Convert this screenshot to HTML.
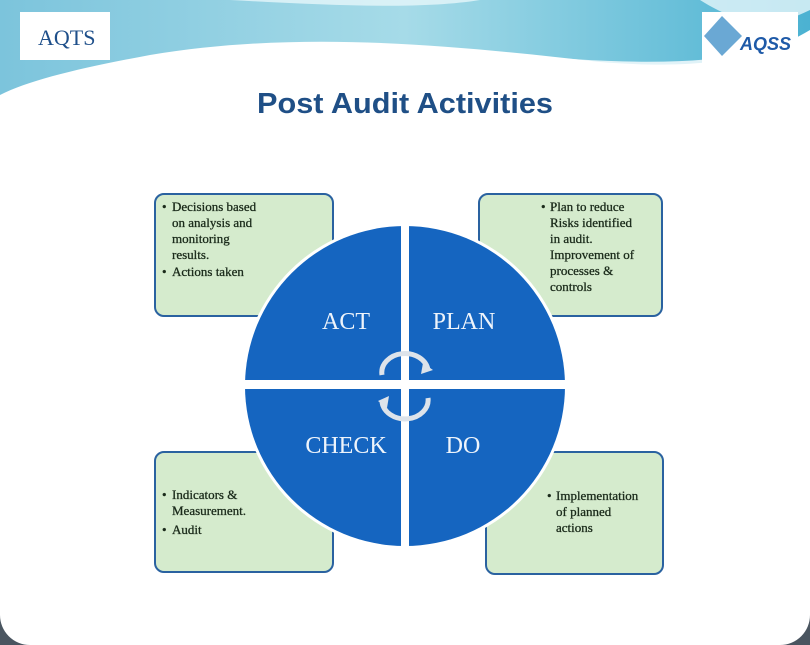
<!DOCTYPE html>
<html><head><meta charset="utf-8"><style>
body{margin:0;width:810px;height:645px;overflow:hidden;background:#fff;font-family:"Liberation Serif",serif}
svg{display:block}
</style></head><body>
<svg width="810" height="645" viewBox="0 0 810 645">
<defs>
<linearGradient id="hdr" x1="0" y1="0" x2="1" y2="0">
<stop offset="0" stop-color="#7cc4dc"/><stop offset="0.5" stop-color="#a6dbe8"/><stop offset="1" stop-color="#4bb2d2"/>
</linearGradient>
</defs>
<rect x="0" y="0" width="810" height="645" fill="#fff"/>
<path d="M0 0 H810 V30 C760 60 700 70 600 62 C450 45 300 30 150 55 C80 68 30 80 0 95 Z" fill="url(#hdr)"/>
<path d="M230 0 C320 5 420 10 480 0 Z M700 0 C740 25 770 30 810 10 V0 Z" fill="#e6f6fa" opacity="0.8"/>
<path d="M60 80 C200 40 360 40 500 55 C600 65 700 70 780 50" stroke="#fff" stroke-width="4" fill="none" opacity="0.8"/>
<rect x="20" y="12" width="90" height="48" fill="#fff"/>
<text x="38" y="45" font-size="22" fill="#1e4f8a">AQTS</text>
<rect x="702" y="12" width="96" height="52" fill="#fff"/>
<path d="M722 16 L742 36 L722 56 L704 36 Z" fill="#6aa8d4"/>
<text x="740" y="50" font-size="18" font-weight="bold" font-style="italic" font-family="Liberation Sans,sans-serif" fill="#1e5aa8">AQSS</text>
<text x="405" y="113" text-anchor="middle" font-size="29" font-weight="bold" font-family="Liberation Sans,sans-serif" fill="#1f4f86" textLength="296" lengthAdjust="spacingAndGlyphs">Post Audit Activities</text>

<g fill="#d5ebcd" stroke="#2a62a0" stroke-width="2">
<rect x="155" y="194" width="178" height="122" rx="9"/>
<rect x="479" y="194" width="183" height="122" rx="9"/>
<rect x="155" y="452" width="178" height="120" rx="9"/>
<rect x="486" y="452" width="177" height="122" rx="9"/>
</g>
<g font-size="13" fill="#1a2a1a" stroke="#1a2a1a" stroke-width="0.3">
<text><tspan x="162" y="211">•</tspan><tspan x="172" y="211">Decisions based</tspan><tspan x="172" y="227">on analysis and</tspan><tspan x="172" y="243">monitoring</tspan><tspan x="172" y="259">results.</tspan><tspan x="162" y="276">•</tspan><tspan x="172" y="276">Actions taken</tspan></text>
<text><tspan x="541" y="211">•</tspan><tspan x="550" y="211">Plan to reduce</tspan><tspan x="550" y="227">Risks identified</tspan><tspan x="550" y="243">in audit.</tspan><tspan x="550" y="259">Improvement of</tspan><tspan x="550" y="275">processes &amp;</tspan><tspan x="550" y="291">controls</tspan></text>
<text><tspan x="162" y="499">•</tspan><tspan x="172" y="499">Indicators &amp;</tspan><tspan x="172" y="515">Measurement.</tspan><tspan x="162" y="534">•</tspan><tspan x="172" y="534">Audit</tspan></text>
<text><tspan x="547" y="500">•</tspan><tspan x="556" y="500">Implementation</tspan><tspan x="556" y="516">of planned</tspan><tspan x="556" y="532">actions</tspan></text>
</g>

<circle cx="405" cy="386" r="163" fill="#fff"/>
<clipPath id="cc"><circle cx="405" cy="386" r="160"/></clipPath>
<g clip-path="url(#cc)" fill="#1565c0">
<rect x="240" y="220" width="161" height="160"/>
<rect x="409" y="220" width="161" height="160"/>
<rect x="240" y="389" width="161" height="165"/>
<rect x="409" y="389" width="161" height="165"/>
</g>
<g font-size="24" fill="#eef4fb" text-anchor="middle">
<text x="346" y="329">ACT</text>
<text x="464" y="329">PLAN</text>
<text x="346" y="453">CHECK</text>
<text x="463" y="453">DO</text>
</g>
<g fill="none" stroke="#dde3ea" stroke-width="5">
<path d="M382 375 A22 18 0 0 1 428 370"/>
<path d="M428 398 A22 18 0 0 1 382 402"/>
</g>
<path d="M423 363 L433 370 L421 374 Z" fill="#dde3ea"/>
<path d="M387 408 L378 401 L389 396 Z" fill="#dde3ea"/>
<path d="M0 615 V645 H30 A30 30 0 0 1 0 615 Z M810 615 V645 H780 A30 30 0 0 0 810 615 Z" fill="#4a5560"/>
</svg>
</body></html>
